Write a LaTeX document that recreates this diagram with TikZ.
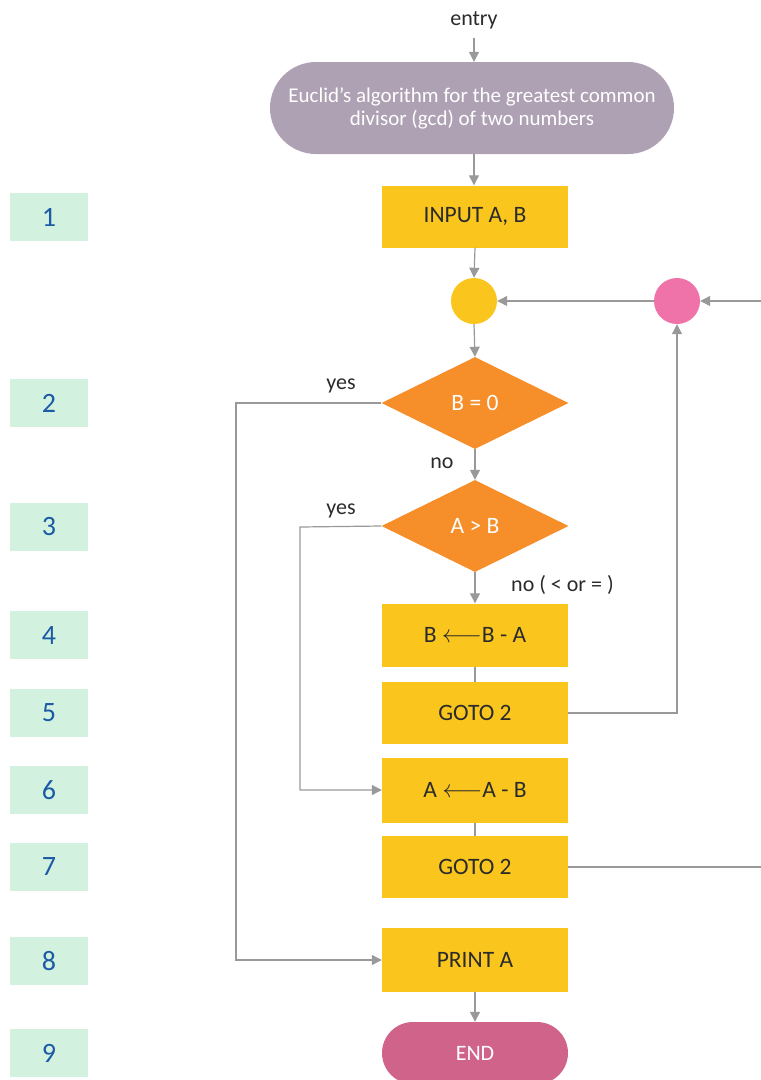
\documentclass[tikz,border=0pt]{standalone}
\usepackage{fontspec}
\setmainfont{Carlito}
\usetikzlibrary{shapes.geometric,arrows.meta}
\definecolor{termc}{HTML}{ADA1B3}
\definecolor{yel}{HTML}{FAC51D}
\definecolor{ora}{HTML}{F68E2A}
\definecolor{pinkc}{HTML}{EF72A8}
\definecolor{endc}{HTML}{D0638A}
\definecolor{mint}{HTML}{D2F2DF}
\definecolor{numblue}{HTML}{1C5AA6}
\definecolor{lgray}{HTML}{999999}
\definecolor{dtext}{HTML}{2B2B2B}
\tikzset{
  procbox/.style={rectangle, fill=yel, minimum width=186pt, minimum height=62pt, inner sep=0pt, text=dtext, font=\fontsize{23.5}{25}\selectfont},
  decbox/.style={diamond, fill=ora, minimum width=187pt, minimum height=92pt, inner sep=0pt, text=white, font=\fontsize{23.5}{25}\selectfont},
  numbox/.style={rectangle, fill=mint, minimum width=78pt, minimum height=48pt, inner sep=0pt, text=numblue, font=\fontsize{28}{30}\selectfont},
  lbl/.style={text=dtext, inner sep=0pt, font=\fontsize{22}{24}\selectfont},
  conn/.style={draw=lgray, line width=1.2pt},
  arr/.style={conn, -{Triangle[length=10pt,width=10pt]}},
}
\begin{document}
\begin{tikzpicture}[x=1pt,y=-1pt]
\useasboundingbox (0,0) rectangle (761,1080);
% labels on the left
\node[numbox] (n1) at (49,217) {1};
\node[numbox] (n2) at (49,403) {2};
\node[numbox] (n3) at (49,527) {3};
\node[numbox] (n4) at (49,635) {4};
\node[numbox] (n5) at (49,713) {5};
\node[numbox] (n6) at (49,790) {6};
\node[numbox] (n7) at (49,867) {7};
\node[numbox] (n8) at (49,961) {8};
\node[numbox] (n9) at (49,1053) {9};
% flow
\node[lbl] (entry) at (474,20) {entry};
\node[rectangle, rounded corners=46pt, fill=termc, minimum width=404pt, minimum height=92pt, inner sep=0pt, text=white, align=center, font=\fontsize{21}{23}\selectfont] (start) at (472,108) {Euclid's algorithm for the greatest common\\divisor (gcd) of two numbers};
\node[procbox] (input) at (475,216.5) {INPUT A, B};
\node[circle, fill=yel, minimum size=46pt, inner sep=0pt] (c1) at (474,301) {};
\node[circle, fill=pinkc, minimum size=46pt, inner sep=0pt] (c2) at (677,301) {};
\node[decbox] (d1) at (475,403) {B = 0};
\node[decbox] (d2) at (475,526) {A > B};
\node[procbox, minimum height=63pt] (b4) at (475,635) {B $\longleftarrow$B - A};
\node[procbox] (b5) at (475,713) {GOTO 2};
\node[procbox, minimum height=65pt] (b6) at (475,790) {A $\longleftarrow$A - B};
\node[procbox] (b7) at (475,867) {GOTO 2};
\node[procbox, minimum height=64pt] (b8) at (475,960) {PRINT A};
\node[rectangle, rounded corners=31pt, fill=endc, minimum width=186pt, minimum height=62pt, inner sep=0pt, text=white, font=\fontsize{22}{24}\selectfont] (endn) at (475,1053) {END};
% edge labels
\node[lbl] (yes1) at (341,386) {yes};
\node[lbl] (no1) at (442,463) {no};
\node[lbl] (yes2) at (341,511) {yes};
\node[lbl, anchor=west] (no2) at (511,585) {no ( < or = )};
% coordinates
\coordinate (rin) at (761,301);
\coordinate (rout) at (761,867);
\coordinate (k1) at (236,403);
\coordinate (k2) at (236,960);
\coordinate (k3) at (300,527);
\coordinate (k4) at (300,790);
\coordinate (k5) at (677,713);
\coordinate (e0) at (474,38);
\coordinate (s0) at (474,154);
% connectors
\draw[arr] (e0) -- (e0 |- start.north);
\draw[arr] (s0) -- (s0 |- input.north);
\draw[arr] (input.south) -- (c1.north);
\draw[arr] (rin) -- (c2.east);
\draw[arr] (c2.west) -- (c1.east);
\draw[arr] (c1.south) -- (d1.north);
\draw[arr] (d1.south) -- (d2.north);
\draw[arr] (d2.south) -- (b4.north);
\draw[conn] (b4.south) -- (b5.north);
\draw[conn] (b6.south) -- (b7.north);
\draw[arr] (b8.south) -- (endn.north);
\draw[arr] (d1.west) -- (k1) -- (k2) -- (b8.west);
\draw[arr] (d2.west) -- (k3) -- (k4) -- (b6.west);
\draw[arr] (b5.east |- k5) -- (k5) -- (c2.south);
\draw[conn] (b7.east) -- (rout);
\end{tikzpicture}
\end{document}
